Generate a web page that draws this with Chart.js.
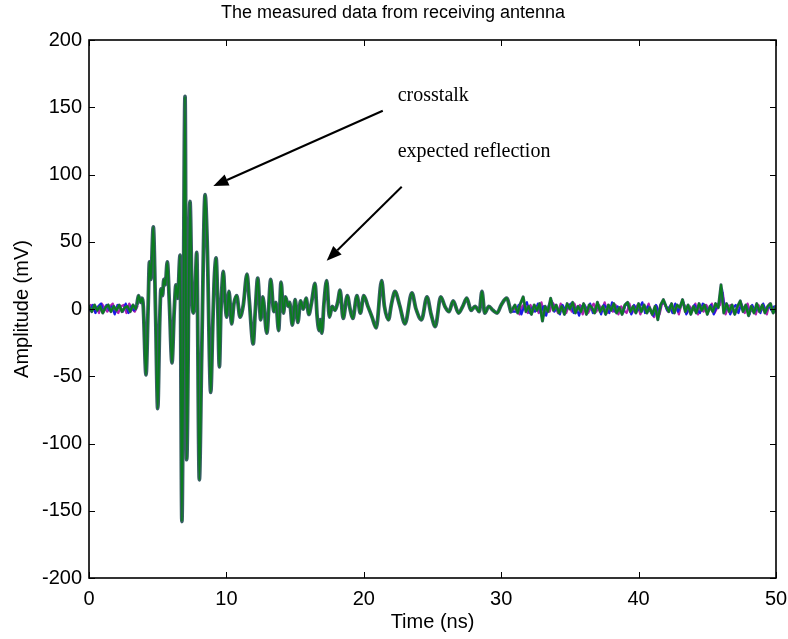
<!DOCTYPE html>
<html>
<head>
<meta charset="utf-8">
<script src="https://cdn.jsdelivr.net/npm/chart.js@4"></script>
<style>
  body { margin: 0; background: #fff; }
  canvas { display: block; }
</style>
</head>
<body>
<canvas id="chart" width="788" height="639"></canvas>
<script>
// noise before the pulse and after the ringing, one value every 0.2 ns, one list per trace
const noiseStep = 0.2;
const tailStart = 31;
const preNoiseGreen = [2, -2, 3, -1, 2, -3, 1, 3, -2, 2, -1, 3, -2, 1, 2, -2, 3, 0];
const preNoiseBlue = [-1, 3, -3, 2, 4, -2, 3, -1, 2, -4, 3, 1, -2, 4, -3, 2, -1, 3];
const preNoiseMagenta = [3, -1, 1, -3, 4, 1, -2, 2, 4, -1, -3, 2, 3, -3, 4, 0, -2, 2];

const tailNoiseGreen = [3, -3, 4, 9, -2, 2, -4, 3, -1, 4, -9, 2, -2, 8, -1, 3, -3, 2, -4, 4,
  0, 5, -3, 2, -2, 4, -4, 3, 1, -3, 5, -2, 2, -4, 3, -1, 4, -3, 1, -4,
  3, 5, -2, 2, -3, 4, -2, 3, -3, 1, -4, 2, -8, 3, 7, 2, -2, 4, -3, 3,
  1, 7, -2, 3, -4, 2, -3, 4, -1, 3, -4, 2, -2, 4, 1, 18, -3, 4, -2, 3,
  -4, 2, 6, -2, 3, -5, 2, -3, 4, -2, 3, -3, 2, 4, -3, 2];
const tailNoiseBlue = [-2, 3, -4, 2, 5, -3, 1, -2, 4, -3, 2, -5, 3, 6, -2, 1, -4, 3, -1, 2,
  4, -3, 1, -5, 2, 3, -2, 4, -3, 0, 2, -4, 3, 1, -3, 5, -2, 2, -1, -3,
  4, 2, -4, 3, -2, 1, 5, -3, 2, -2, -5, 3, -3, 4, 5, -1, 2, -3, 4, -2,
  3, 5, -4, 1, -2, 3, -1, -3, 4, 2, -2, 3, -4, 2, 5, 15, -2, 3, -4, 1,
  3, -3, 4, -1, 2, -4, 3, -2, 1, -3, 4, -2, 3, -1, 2, -3];
const tailNoiseMagenta = [1, -4, 2, 4, -3, 3, -2, 2, -3, 5, -4, 1, -2, 5, 2, -3, 4, -1, -3, 3,
  -2, 4, -1, 3, -4, 2, -3, 1, 4, -2, 3, -1, 5, -3, 2, -2, 3, -4, 2, -1,
  -3, 4, -3, 1, 3, -4, 2, -1, 4, -3, -6, 2, -4, 5, 3, -2, 3, -1, 2, -4,
  4, 3, -3, 2, -1, 4, -4, 2, -2, 3, -1, 4, -3, 1, 3, 12, -4, 2, 3, -3,
  -2, 4, 2, -3, 4, -2, 1, -4, 3, -1, 2, -4, 4, -2, 1, 3];

// main pulse and ringing, shared by all traces
const pulseTimes = [3.5, 3.6, 3.75, 3.85, 3.95, 4.15, 4.3, 4.4, 4.5, 4.68, 4.85, 5.0, 5.15, 5.24, 5.35, 5.45,
  5.55, 5.7, 5.85, 6.04, 6.2, 6.33, 6.45, 6.63, 6.76, 6.99, 7.11, 7.35, 7.5, 7.6, 7.7, 7.84, 8.03, 8.2, 8.45,
  8.6, 8.86, 9.0, 9.1, 9.25, 9.35, 9.49, 9.6, 9.78, 9.9, 10.02, 10.19, 10.38, 10.55, 10.75, 10.99, 11.23,
  11.5, 11.66, 11.95, 12.1, 12.28, 12.5, 12.65, 12.94, 13.23, 13.45, 13.6, 13.8, 13.98, 14.15, 14.3, 14.5,
  14.6, 14.8, 15.0, 15.2, 15.4, 15.6, 15.8, 16.0, 16.2, 16.45, 16.6, 16.75, 16.85, 16.95, 17.1, 17.3, 17.5,
  17.7, 17.9, 18.1, 18.27, 18.5, 18.8, 19.0, 19.2, 19.5, 19.75, 20.0, 20.3, 20.6, 20.9, 21.3, 21.5, 21.8,
  22.0, 22.27, 22.6, 23.0, 23.5, 23.8, 24.2, 24.6, 24.9, 25.2, 25.6, 25.9, 26.2, 26.5, 26.9, 27.2, 27.5,
  27.8, 28.1, 28.4, 28.6, 28.8, 29.1, 29.4, 29.7, 30.0, 30.4, 30.7];
const pulseAmps = [4, 10, 5, 8, 2, -49, 0, 35, 22, 61, -5, -74, -8, 15, 10, 22,
  18, 35, 4, -40, -2, 18, 8, 40, -158, 158, -112, 80, 8, -3, 6, 42, -127, -35, 85,
  50, -62, -15, 18, 38, 12, -43, -2, 28, 6, -6, 13, -11, 4, 10, -6, 3,
  26, 7, -26, -2, 23, -8, 9, -18, 22, -2, 5, -16, 20, -3, 9, 2,
  5, -12, 7, -10, 6, 0, 8, -4, 5, 19, -5, -16, -8, -18, 4, 21, -6,
  2, -1, 5, 14, -7, 10, 0, -7, 10, -3, 10, 2, -6, -14, 21, 2, -8,
  3, 13, 3, -11, 12, 0, -8, 9, -4, -13, 9, 2, -2, 6, -3, 2, 8,
  -1, 2, -2, 13, -3, 2, -1, -3, 3, 8, -2];

const xTicks = [0, 10, 20, 30, 40, 50];
const yTicks = [-200, -150, -100, -50, 0, 50, 100, 150, 200];

// arrows: [tail time, tail amp, tip time, tip amp]
const arrows = [
  [21.38, 147.4, 9.05, 91.4],
  [22.76, 90.9, 17.3, 35.9]
];
const noteTexts = ['crosstalk', 'expected reflection'];
const noteTimes = [22.47, 22.47];
const noteAmps = [154.9, 112.8];

const last = pulseTimes.length - 1;
const pulsePts = pulseTimes.map((t, i) => ({ x: t, y: pulseAmps[i] }));

// noise grid of each trace is shifted a little so the traces interleave
function prePoints(noise, shift) {
  const pts = noise.map((v, i) => ({ x: +(shift + i * noiseStep).toFixed(2), y: v }));
  pts.push({ x: pulseTimes[0], y: pulseAmps[0] });
  return pts;
}
function tailPoints(noise, shift) {
  const pts = [{ x: pulseTimes[last], y: pulseAmps[last] }];
  noise.forEach((v, i) => pts.push({ x: +(tailStart + shift + i * noiseStep).toFixed(2), y: v }));
  return pts;
}

const sansFont = "'Liberation Sans', Arial, sans-serif";

function trace(data, color, width, smooth) {
  return {
    data, showLine: true, borderColor: color, borderWidth: width, pointRadius: 0,
    borderJoinStyle: 'round', borderCapStyle: 'round',
    tension: smooth ? 0.4 : 0, cubicInterpolationMode: smooth ? 'monotone' : 'default'
  };
}

const green = '#0a7d1e', slate = '#3a5e66', blue = '#1a1ae6', magenta = '#b020b0';

const framePlugin = {
  id: 'frame',
  afterDraw(chart) {
    const { ctx, chartArea: a, scales: { x, y } } = chart;
    ctx.save();
    ctx.strokeStyle = '#000';
    ctx.lineWidth = 1.6;
    ctx.strokeRect(a.left, a.top, a.right - a.left, a.bottom - a.top);

    // inward tick marks on all four sides
    ctx.lineWidth = 1;
    ctx.beginPath();
    xTicks.forEach(v => {
      const px = Math.round(x.getPixelForValue(v)) + 0.5;
      ctx.moveTo(px, a.bottom); ctx.lineTo(px, a.bottom - 6);
      ctx.moveTo(px, a.top); ctx.lineTo(px, a.top + 6);
    });
    yTicks.forEach(v => {
      const py = Math.round(y.getPixelForValue(v)) + 0.5;
      ctx.moveTo(a.left, py); ctx.lineTo(a.left + 6, py);
      ctx.moveTo(a.right, py); ctx.lineTo(a.right - 6, py);
    });
    ctx.stroke();

    // arrows
    ctx.fillStyle = '#000';
    ctx.lineWidth = 2;
    arrows.forEach(ar => {
      const x0 = x.getPixelForValue(ar[0]), y0 = y.getPixelForValue(ar[1]);
      const x1 = x.getPixelForValue(ar[2]), y1 = y.getPixelForValue(ar[3]);
      const ang = Math.atan2(y1 - y0, x1 - x0);
      const hl = 15, hw = 6;
      const bx = x1 - hl * Math.cos(ang), by = y1 - hl * Math.sin(ang);
      ctx.beginPath();
      ctx.moveTo(x0, y0); ctx.lineTo(bx, by);
      ctx.stroke();
      ctx.beginPath();
      ctx.moveTo(x1, y1);
      ctx.lineTo(bx + hw * Math.sin(ang), by - hw * Math.cos(ang));
      ctx.lineTo(bx - hw * Math.sin(ang), by + hw * Math.cos(ang));
      ctx.closePath();
      ctx.fill();
    });

    // notes
    ctx.font = "20px 'Liberation Serif', 'Times New Roman', serif";
    ctx.textBaseline = 'alphabetic';
    ctx.textAlign = 'left';
    noteTexts.forEach((txt, i) => {
      ctx.fillText(txt, x.getPixelForValue(noteTimes[i]), y.getPixelForValue(noteAmps[i]));
    });
    ctx.restore();
  }
};

new Chart(document.getElementById('chart'), {
  type: 'scatter',
  data: {
    datasets: [
      trace(pulsePts, green, 1.8, true),
      trace(pulsePts, slate, 3.8, true),
      trace(prePoints(preNoiseGreen, 0), green, 1.8, false),
      trace(tailPoints(tailNoiseGreen, 0), green, 1.8, false),
      trace(prePoints(preNoiseGreen, 0), slate, 3.0, false),
      trace(tailPoints(tailNoiseGreen, 0), slate, 3.0, false),
      trace(prePoints(preNoiseBlue, 0.07), blue, 2.2, false),
      trace(tailPoints(tailNoiseBlue, 0.07), blue, 2.2, false),
      trace(prePoints(preNoiseMagenta, 0.13), magenta, 2.2, false),
      trace(tailPoints(tailNoiseMagenta, 0.13), magenta, 2.2, false)
    ]
  },
  options: {
    responsive: false,
    animation: false,
    devicePixelRatio: 1,
    layout: { padding: { left: 10, right: 12, top: 0, bottom: 0 } },
    plugins: {
      legend: { display: false },
      tooltip: { enabled: false },
      title: {
        display: true,
        text: 'The measured data from receiving antenna',
        color: '#000',
        font: { family: sansFont, size: 18, weight: 'normal' },
        padding: { top: 2, bottom: 16.4 }
      }
    },
    scales: {
      x: {
        type: 'linear',
        min: 0,
        max: 50,
        afterFit: s => { s.height = 61; s.paddingLeft = 0; s.paddingRight = 0; },
        afterBuildTicks: s => { s.ticks = xTicks.map(v => ({ value: v })); },
        ticks: { color: '#000', font: { family: sansFont, size: 20 }, padding: 9, maxRotation: 0 },
        grid: { display: false, drawTicks: false },
        border: { display: false },
        title: {
          display: true,
          text: 'Time (ns)',
          color: '#000',
          font: { family: sansFont, size: 20 },
          padding: { top: 0, bottom: 5 }
        }
      },
      y: {
        type: 'linear',
        min: -200,
        max: 200,
        afterFit: s => { s.width = 79; s.paddingTop = 0; s.paddingBottom = 0; },
        afterBuildTicks: s => { s.ticks = yTicks.map(v => ({ value: v })); },
        ticks: { color: '#000', font: { family: sansFont, size: 20 }, padding: 7 },
        grid: { display: false, drawTicks: false },
        border: { display: false },
        title: {
          display: true,
          text: 'Amplitude (mV)',
          color: '#000',
          font: { family: sansFont, size: 20 },
          padding: { top: 0, bottom: 0 }
        }
      }
    }
  },
  plugins: [framePlugin]
});
</script>
</body>
</html>
